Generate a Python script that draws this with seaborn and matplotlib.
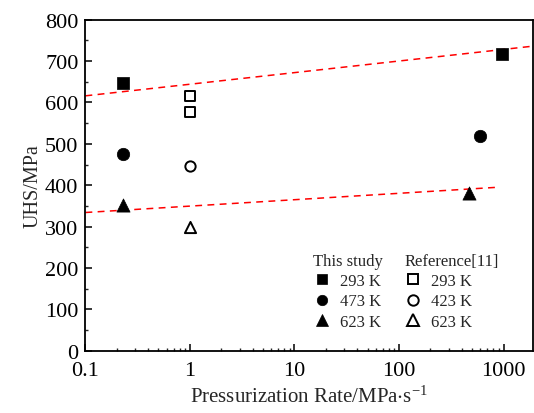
import matplotlib
matplotlib.use("Agg")
import matplotlib.pyplot as plt
from matplotlib.lines import Line2D
import seaborn as sns
import pandas as pd

# ---- data ----
study_293_x = [0.23, 960]
study_293_y = [647, 717]
study_473_x = [0.23, 600]
study_473_y = [476, 520]
study_623_x = [0.23, 470]
study_623_y = [353, 382]

ref_293_x = [1.0, 1.0]
ref_293_y = [616, 578]
ref_423_x = [1.0]
ref_423_y = [446]
ref_623_x = [1.0]
ref_623_y = [298]

fit_top_x = [0.1, 1900]
fit_top_y = [616, 736]
fit_bot_x = [0.1, 880]
fit_bot_y = [334, 395]

x_ticks = [0.1, 1, 10, 100, 1000]
x_tick_labels = ["0.1", "1", "10", "100", "1000"]
y_ticks = [0, 100, 200, 300, 400, 500, 600, 700, 800]

sns.set_style("ticks")
plt.rcParams["font.family"] = ["Liberation Serif", "DejaVu Serif"]
plt.rcParams["mathtext.fontset"] = "stix"

fig = plt.figure(figsize=(5.34, 4.14), dpi=100)
ax = fig.add_axes([0.160, 0.1505, 0.8375, 0.7995])

# fit lines
for fx, fy in [(fit_top_x, fit_top_y), (fit_bot_x, fit_bot_y)]:
    sns.lineplot(x=fx, y=fy, ax=ax, color="red", linewidth=1.1,
                 linestyle=(0, (4.5, 3.5)), legend=False)

def scat(xs, ys, marker, filled, size):
    df = pd.DataFrame({"x": xs, "y": ys})
    if filled:
        sns.scatterplot(data=df, x="x", y="y", ax=ax, marker=marker, s=size,
                        color="black", edgecolor="black", linewidth=0.5, zorder=5)
    else:
        sns.scatterplot(data=df, x="x", y="y", ax=ax, marker=marker, s=size,
                        facecolor="white", edgecolor="black", linewidth=1.4, zorder=5)

scat(study_293_x, study_293_y, "s", True, 70)
scat(study_473_x, study_473_y, "o", True, 80)
scat(study_623_x, study_623_y, "^", True, 90)
scat(ref_293_x, ref_293_y, "s", False, 45)
scat(ref_423_x, ref_423_y, "o", False, 55)
scat(ref_623_x, ref_623_y, "^", False, 65)

ax.set_xscale("log")
ax.set_xlim(0.1, 1900)
ax.set_ylim(0, 800)
ax.set_xticks(x_ticks)
ax.set_xticklabels(x_tick_labels)
ax.set_yticks(y_ticks)
ax.yaxis.set_minor_locator(matplotlib.ticker.MultipleLocator(50))
ax.xaxis.set_minor_locator(matplotlib.ticker.LogLocator(base=10, subs=range(2, 10)))
ax.xaxis.set_minor_formatter(matplotlib.ticker.NullFormatter())

ax.tick_params(axis="both", which="major", direction="in", length=5, width=1.1,
               labelsize=16, colors="black")
ax.tick_params(axis="y", which="major", pad=5)
ax.tick_params(axis="x", which="major", pad=7.5)
ax.tick_params(axis="both", which="minor", direction="in", length=2.5, width=1.0)
ax.tick_params(top=False, right=False, which="both")
for sp in ax.spines.values():
    sp.set_linewidth(1.3)
    sp.set_color("black")

ax.set_xlabel("Pressurization Rate/MPa$\\cdot$s$^{\\mathregular{-1}}$", fontsize=15, labelpad=4)
ax.set_ylabel("UHS/MPa", fontsize=14.5, labelpad=2)

def h(marker, filled):
    return Line2D([], [], linestyle="none", marker=marker, markersize=7.5 if marker != "^" else 8.5,
                  markerfacecolor="black" if filled else "white",
                  markeredgecolor="black", markeredgewidth=1.4 if not filled else 0.5)

leg_kw = dict(loc="upper left", frameon=False, fontsize=12, title_fontsize=12,
              handlelength=1.0, handletextpad=0.6, labelspacing=0.25,
              borderaxespad=0, borderpad=0)
leg1 = ax.legend([h("s", True), h("o", True), h("^", True)],
                 ["293 K", "473 K", "623 K"], title="This study",
                 bbox_to_anchor=(0.508, 0.295), **leg_kw)
ax.add_artist(leg1)
leg2 = ax.legend([h("s", False), h("o", False), h("^", False)],
                 ["293 K", "423 K", "623 K"], title="Reference[11]",
                 bbox_to_anchor=(0.713, 0.295), alignment="left", **leg_kw)

fig.savefig("out.png", dpi=100)
